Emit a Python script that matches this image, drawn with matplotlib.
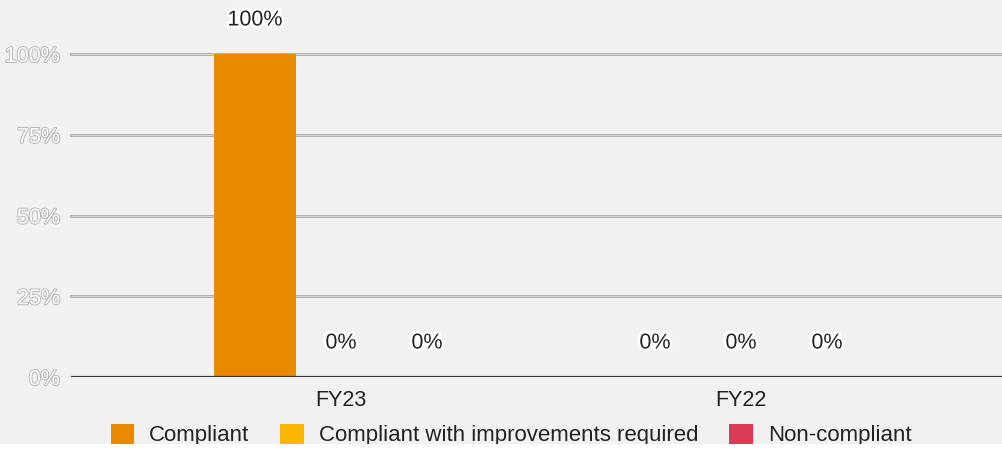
import matplotlib
matplotlib.use("Agg")
import matplotlib.pyplot as plt
import matplotlib.patheffects as pe
from matplotlib.patches import Patch, Rectangle
import numpy as np

categories = ["FY23", "FY22"]
series_names = ["Compliant", "Compliant with improvements required", "Non-compliant"]
compliant = [100, 0]
improvements = [0, 0]
non_compliant = [0, 0]
y_ticks = [0, 25, 50, 75, 100]
y_tick_labels = ["0%", "25%", "50%", "75%", "100%"]

colors = ["#e98a00", "#fbb400", "#db3954"]
plt.rcParams['font.family'] = ['Liberation Sans', 'DejaVu Sans']
FS = 15.5

W, H = 1002, 449
fig = plt.figure(figsize=(W / 100, H / 100), dpi=100)
fig.patch.set_facecolor("#f1f1f1")
ax = fig.add_axes([71 / W, 1 - 377 / H, (W - 71) / W, 323 / H])
ax.set_facecolor("#f1f1f1")

x = np.arange(len(categories))
offset = 0.215
width = 0.205
all_series = [compliant, improvements, non_compliant]
for i, (vals, c) in enumerate(zip(all_series, colors)):
    xs = x + (i - 1) * offset
    ax.bar(xs, vals, width=width, color=c, zorder=3)
    for xi, v in zip(xs, vals):
        ax.annotate(f"{v}%", (xi, v), xytext=(0, 34 * 0.72), textcoords="offset points",
                    ha="center", va="center", fontsize=FS, color="#222222",
                    path_effects=[pe.withStroke(linewidth=4, foreground="white")],
                    annotation_clip=False, zorder=5)

ax.set_xlim(-0.675, 1.6525)
ax.set_ylim(0, 100)
for s in ax.spines.values():
    s.set_visible(False)

# gridlines (double line look)
for t in y_ticks[1:]:
    ax.axhline(t, color="#b3b3b3", lw=2.2, zorder=1, clip_on=False)
    ax.axhline(t, color="#dcdcdc", lw=0.6, zorder=1.5, clip_on=False)
ax.axhline(0, color="#333333", lw=1.6, zorder=4)

ax.set_yticks(y_ticks)
ax.set_yticklabels(y_tick_labels)
ax.tick_params(axis="y", length=0, pad=8, labelsize=FS, labelcolor="white")
for lab in ax.get_yticklabels():
    lab.set_path_effects([pe.Stroke(linewidth=1.4, foreground="#b8b8b8"), pe.Normal()])

ax.set_xticks(x)
ax.set_xticklabels(categories)
ax.tick_params(axis="x", length=0, pad=9, labelsize=FS, labelcolor="#222222")

handles = [Patch(facecolor=c, edgecolor="none") for c in colors]
fig.legend(handles, series_names, loc="center", bbox_to_anchor=(511 / W, 1 - 435 / H),
           ncol=3, frameon=False, fontsize=16, handlelength=1.05, handleheight=1.05,
           handletextpad=0.68, columnspacing=1.4, labelcolor="#222222")

fig.add_artist(Rectangle((0, 0), 1, 5 / H, transform=fig.transFigure,
                         facecolor="white", edgecolor="none", zorder=20))

fig.savefig("out.png", dpi=100, facecolor=fig.get_facecolor())
